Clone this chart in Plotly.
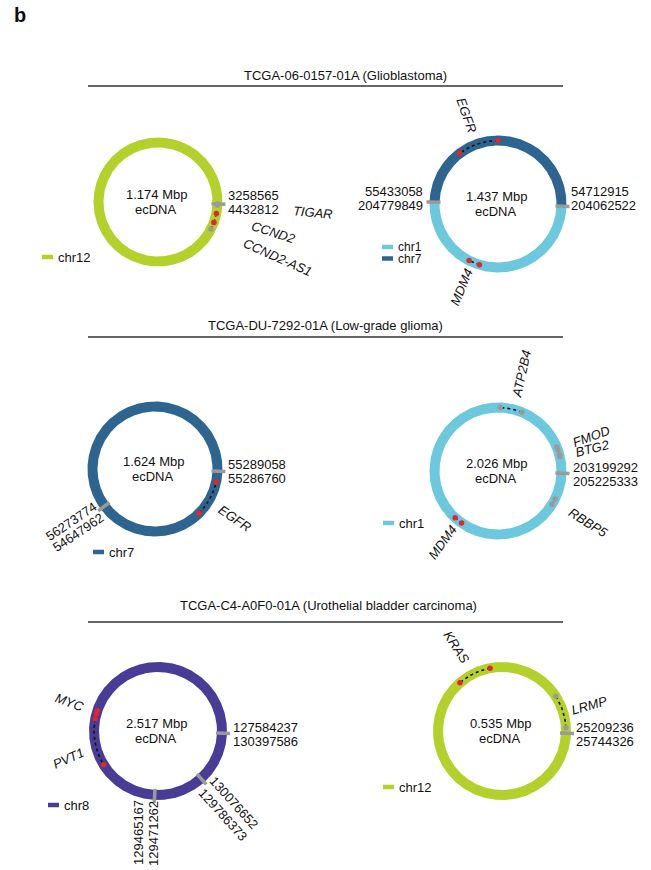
import numpy as np
import plotly.graph_objects as go

# ---------------- data ----------------
panel_letter = "b"
titles = ["TCGA-06-0157-01A (Glioblastoma)",
          "TCGA-DU-7292-01A (Low-grade glioma)",
          "TCGA-C4-A0F0-01A (Urothelial bladder carcinoma)"]

# ecDNA segments (in order around the circle, counter-clockwise)
seg_ecdna = [0, 1, 1, 2, 2, 3, 4, 4, 4, 5]
seg_chrom = ["chr12", "chr7", "chr1", "chr7", "chr7", "chr1", "chr8", "chr8", "chr8", "chr12"]
seg_start = [3258565, 54712915, 204779849, 55289058, 54647962, 203199292,
             127584237, 129471262, 130076652, 25209236]
seg_end = [4432812, 55433058, 204062522, 56273774, 55286760, 205225333,
           129465167, 129786373, 130397586, 25744326]

# genes located on the ecDNAs
gene_name = ["CCND2-AS1", "CCND2", "TIGAR", "EGFR", "MDM4", "EGFR", "BTG2", "FMOD",
             "ATP2B4", "MDM4", "RBBP5", "MYC", "PVT1", "LRMP", "KRAS"]
gene_ecdna = [0, 0, 0, 1, 1, 2, 3, 3, 3, 3, 3, 4, 4, 5, 5]
gene_chrom = ["chr12", "chr12", "chr12", "chr7", "chr1", "chr7", "chr1", "chr1",
              "chr1", "chr1", "chr1", "chr8", "chr8", "chr12", "chr12"]
gene_start = [4351000, 4374000, 4429000, 55080000, 204482000, 55093000, 203284000, 203320000,
              203593000, 204491000, 205058000, 128728000, 128780000, 25216600, 25362000]
gene_end = [4374000, 4403000, 4432800, 55228000, 204522000, 55242000, 203294000, 203335000,
            203706000, 204533000, 205090000, 128745000, 129080000, 25261000, 25407000]
gene_highlight = [False, True, False, True, True, True, False, False,
                  False, True, False, True, True, False, True]

# ---------------- style / layout ----------------
chr_colors = {"chr1": "#6cc8dc", "chr7": "#2d6590", "chr8": "#483c96", "chr12": "#b4d02a"}
FONT = "Liberation Sans, Arial, Helvetica, sans-serif"
W, H = 651, 870
START_DEG = -2.0
RING_W = 10.0
centers = [(158, 202), (498, 204), (155, 469), (498, 471), (158, 731), (502, 731)]
radii = [64.5, 68.5, 67.5, 68.5, 69, 69]
title_pos = [(345, 75, 86), (325, 325, 337), (328, 605, 622)]
rule_x = (88, 563)
legend_pos = [(42, 257), (382, 247), (93, 552), (383, 523), (48, 805), (383, 787)]

bp_label_layout = {
    (0, 0): dict(x=[227, 227], y=[195, 209], anchor="left", angle=0),
    (1, 0): dict(x=[570, 570], y=[191, 205], anchor="left", angle=0),
    (1, 1): dict(x=[424, 424], y=[191, 205], anchor="right", angle=0),
    (2, 0): dict(x=[227, 227], y=[464, 478], anchor="left", angle=0),
    (2, 1): dict(x=[71, 78], y=[521, 532], anchor="center", angle=-34),
    (3, 0): dict(x=[572, 572], y=[467, 481], anchor="left", angle=0),
    (4, 0): dict(x=[232, 232], y=[727, 741], anchor="left", angle=0),
    (4, 1): dict(x=[138, 153], y=[833, 834], anchor="center", angle=-90),
    (4, 2): dict(x=[234, 223], y=[802, 814], anchor="center", angle=48),
    (5, 0): dict(x=[575, 575], y=[727, 741], anchor="left", angle=0),
}
gene_label_layout = {
    (0, "TIGAR"): (313, 212, 5), (0, "CCND2"): (274, 232, 18), (0, "CCND2-AS1"): (278, 257, 24),
    (1, "EGFR"): (467, 115, 70), (1, "MDM4"): (461, 287, -67),
    (2, "EGFR"): (235, 518, 34),
    (3, "ATP2B4"): (521, 374, -78), (3, "FMOD"): (591, 436, -20), (3, "BTG2"): (592, 448, -14),
    (3, "RBBP5"): (588, 522, 32), (3, "MDM4"): (442, 542, -54),
    (4, "MYC"): (70, 702, 20), (4, "PVT1"): (68, 758, -24),
    (5, "KRAS"): (457, 647, 57), (5, "LRMP"): (589, 705, -16),
}

fig = go.Figure()
annotations = []


def ann(text, x, y, size=13, angle=0, xanchor="center", yanchor="middle", italic=False, bold=False):
    annotations.append(dict(
        text=text, x=x, y=y, xref="x", yref="y", showarrow=False, textangle=angle,
        xanchor=xanchor, yanchor=yanchor, borderpad=0,
        font=dict(family=FONT, size=size, color="#111111",
                  style="italic" if italic else "normal", weight="bold" if bold else "normal")))


def polar(cx, cy, r, deg):
    t = np.deg2rad(deg)
    return cx + r * np.cos(t), cy - r * np.sin(t)


n_ecdna = len(centers)
ecdna_info = []
for k in range(n_ecdna):
    idx = [i for i in range(len(seg_ecdna)) if seg_ecdna[i] == k]
    lens = [abs(seg_end[i] - seg_start[i]) for i in idx]
    total = float(sum(lens))
    cum = np.concatenate([[0], np.cumsum(lens)])
    ecdna_info.append((idx, lens, total, cum))


def pos_to_deg(k, chrom, pos):
    idx, lens, total, cum = ecdna_info[k]
    for j, i in enumerate(idx):
        lo, hi = min(seg_start[i], seg_end[i]), max(seg_start[i], seg_end[i])
        if seg_chrom[i] == chrom and lo <= pos <= hi:
            off = cum[j] + abs(pos - seg_start[i])
            return START_DEG + off / total * 360.0
    return None


for k in range(n_ecdna):
    cx, cy = centers[k]
    ro = radii[k]
    ri = ro - RING_W
    idx, lens, total, cum = ecdna_info[k]
    # ring segments
    for j, i in enumerate(idx):
        a0 = START_DEG + cum[j] / total * 360.0
        a1 = START_DEG + cum[j + 1] / total * 360.0
        th = np.linspace(a0, a1, max(10, int((a1 - a0) * 2)))
        xo, yo = polar(cx, cy, ro, th)
        xi, yi = polar(cx, cy, ri, th[::-1])
        fig.add_trace(go.Scatter(x=np.concatenate([xo, xi, xo[:1]]), y=np.concatenate([yo, yi, yo[:1]]),
                                 mode="lines", fill="toself", fillcolor=chr_colors[seg_chrom[i]],
                                 line=dict(width=0, color=chr_colors[seg_chrom[i]]),
                                 hoverinfo="skip", showlegend=False))
    # breakpoints
    for j, i in enumerate(idx):
        a = START_DEG + cum[j] / total * 360.0
        xb, yb = polar(cx, cy, np.array([ri - 1, ro + 3]), a)
        fig.add_trace(go.Scatter(x=xb, y=yb, mode="lines", line=dict(color="#9a9a9a", width=3.5),
                                 hoverinfo="skip", showlegend=False))
        prev_i = idx[j - 1]
        if np.cos(np.deg2rad(a)) > 0:
            lines = [seg_start[i], seg_end[prev_i]]
        else:
            lines = [seg_end[prev_i], seg_start[i]]
        lay = bp_label_layout.get((k, j))
        if lay:
            for t, xx, yy in zip(lines, lay["x"], lay["y"]):
                ann(str(t), xx, yy, angle=lay["angle"], xanchor=lay["anchor"])
    # center text
    ann(f"{total / 1e6:.3f} Mbp", cx - 2, cy - 8)
    ann("ecDNA", cx - 2, cy + 7)
    # legend
    chroms = sorted({seg_chrom[i] for i in idx}, key=lambda c: int(c[3:]))
    lx, ly = legend_pos[k]
    for m, c in enumerate(chroms):
        yy = ly + m * 11.5
        fig.add_trace(go.Scatter(x=[lx, lx + 11], y=[yy, yy], mode="lines",
                                 line=dict(color=chr_colors[c], width=4.5),
                                 hoverinfo="skip", showlegend=False))
        ann(c, lx + 15, yy, xanchor="left", size=13 if len(chroms) == 1 else 12)

# genes
for g in range(len(gene_name)):
    k = gene_ecdna[g]
    cx, cy = centers[k]
    rm = radii[k] - RING_W / 2
    a0 = pos_to_deg(k, gene_chrom[g], gene_start[g])
    a1 = pos_to_deg(k, gene_chrom[g], gene_end[g])
    th = np.linspace(a0, a1, 30)
    xg, yg = polar(cx, cy, rm, th)
    fig.add_trace(go.Scatter(x=xg, y=yg, mode="lines", line=dict(color="#111111", width=1.6, dash="dot"),
                             hoverinfo="skip", showlegend=False))
    mc = "#e3262b" if gene_highlight[g] else "#9a9a9a"
    xe, ye = polar(cx, cy, rm, np.array([a0, a1]))
    fig.add_trace(go.Scatter(x=xe, y=ye, mode="markers",
                             marker=dict(color=mc, size=5.5, line=dict(width=0)),
                             hoverinfo="skip", showlegend=False))
    lay = gene_label_layout.get((k, gene_name[g]))
    if lay:
        ann(gene_name[g], lay[0], lay[1], angle=lay[2], italic=True)

# titles and rules
for t, (tx, ty, ly) in zip(titles, title_pos):
    ann(t, tx, ty)
    fig.add_trace(go.Scatter(x=list(rule_x), y=[ly, ly], mode="lines",
                             line=dict(color="#333333", width=1.5), hoverinfo="skip", showlegend=False))

ann(panel_letter, 20, 15, size=20, bold=True)

fig.update_layout(
    width=W, height=H, margin=dict(l=0, r=0, t=0, b=0),
    paper_bgcolor="white", plot_bgcolor="white", showlegend=False,
    xaxis=dict(range=[0, W], visible=False, fixedrange=True),
    yaxis=dict(range=[H, 0], visible=False, fixedrange=True),
    annotations=annotations,
)
fig.write_html("out.html")
